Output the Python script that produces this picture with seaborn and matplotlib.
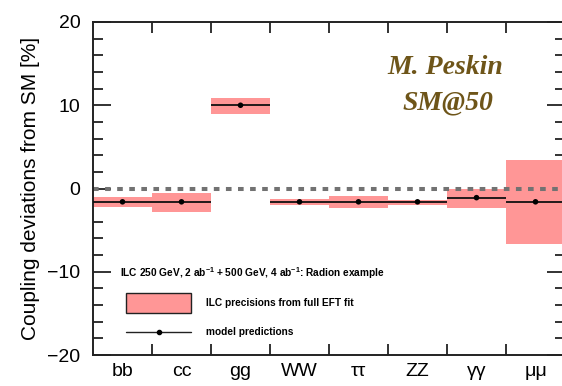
import matplotlib
matplotlib.use("Agg")
import matplotlib.pyplot as plt
from matplotlib.patches import Rectangle
from matplotlib.lines import Line2D
from matplotlib.ticker import MultipleLocator, FixedLocator, NullFormatter
import numpy as np
import pandas as pd
import seaborn as sns

# Higgs coupling channels and Radion-model deviations (%)
channels = ["bb", "cc", "gg", "WW", "ττ", "ZZ", "γγ", "μμ"]
prediction = [-1.6, -1.6, 10.0, -1.6, -1.6, -1.6, -1.1, -1.6]
band_low = [-2.2, -2.8, 9.0, -2.0, -2.4, -2.0, -2.3, -6.7]
band_high = [-1.0, -0.6, 10.9, -1.3, -0.9, -1.4, 0.0, 3.4]

sns.set_theme(style="ticks")
plt.rcParams["font.family"] = ["Liberation Sans", "DejaVu Sans"]
plt.rcParams["mathtext.fontset"] = "custom"
plt.rcParams["mathtext.rm"] = "Liberation Sans:bold"
plt.rcParams["mathtext.bf"] = "Liberation Sans:bold"

df = pd.DataFrame({
    "channel": channels,
    "pos": np.arange(len(channels)) + 0.5,
    "pred": prediction,
    "lo": band_low,
    "hi": band_high,
})

W, H = 562, 386
fig = plt.figure(figsize=(W / 100, H / 100), dpi=100)
ax = fig.add_axes([93 / W, (H - 355) / H, 472 / W, 333 / H])

band_color = "#ff9696"
# precision bands
ax.bar(df["pos"], df["hi"] - df["lo"], bottom=df["lo"], width=1.0,
       color=band_color, edgecolor="none", zorder=1)
# SM reference line
ax.axhline(0, color="#727272", lw=2.9, ls=(0, (1.4, 1.6)), zorder=2)
# model predictions: horizontal segment across each bin plus a centre dot
ax.hlines(df["pred"], df["pos"] - 0.5, df["pos"] + 0.5, color="#111111",
          lw=1.3, zorder=3)
sns.scatterplot(data=df, x="pos", y="pred", color="black", s=16,
                edgecolor="none", ax=ax, zorder=4, legend=False)

ax.set_xlim(0, len(channels))
ax.set_ylim(-20, 20)

# bin boundaries as inward ticks, channel names centred in bins
ax.xaxis.set_major_locator(FixedLocator(np.arange(1, len(channels))))
ax.xaxis.set_major_formatter(NullFormatter())
ax.xaxis.set_minor_locator(FixedLocator(df["pos"]))
ax.set_xticklabels(channels, minor=True)
ax.tick_params(axis="x", which="major", direction="in", length=8, width=1.3,
               top=True, bottom=True, color="#222222")
ax.tick_params(axis="x", which="minor", length=0, pad=6, labelsize=14,
               labelcolor="black")

ax.yaxis.set_major_locator(MultipleLocator(10))
ax.yaxis.set_minor_locator(MultipleLocator(2))
ax.tick_params(axis="y", which="major", direction="in", length=13, width=1.3,
               left=True, right=True, labelsize=14, pad=9, color="#222222",
               labelcolor="black")
ax.tick_params(axis="y", which="minor", direction="in", length=7, width=1.3,
               left=True, right=True, color="#222222")
for s in ax.spines.values():
    s.set_linewidth(1.4)
    s.set_color("#222222")

ax.set_xlabel("")
ax.set_ylabel("Coupling deviations from SM [%]", fontsize=15, labelpad=5,
              color="black")

# in-frame legend
def fx(px):
    return (px - 93) / 472

def fy(py):
    return (355 - py) / 333

leg_fs = 7.3
ax.text(fx(120), fy(273),
        r"ILC 250 GeV, 2 ab$^{-1}$ + 500 GeV, 4 ab$^{-1}$: Radion example",
        transform=ax.transAxes, fontsize=leg_fs, fontweight="bold",
        va="center", ha="left", color="black")
ax.add_patch(Rectangle((fx(126), fy(312.5)), fx(191) - fx(126),
                       fy(292.7) - fy(312.5), transform=ax.transAxes,
                       facecolor=band_color, edgecolor="#222222", lw=1.0,
                       zorder=5))
ax.text(fx(206), fy(302.5), "ILC precisions from full EFT fit",
        transform=ax.transAxes, fontsize=leg_fs, fontweight="bold",
        va="center", ha="left", color="black")
ax.add_line(Line2D([fx(126), fx(191)], [fy(332), fy(332)],
                   transform=ax.transAxes, color="#222222", lw=1.0,
                   marker=None, zorder=5))
ax.add_line(Line2D([fx(158.5)], [fy(332)], transform=ax.transAxes,
                   color="black", marker="o", ms=3, zorder=6))
ax.text(fx(206), fy(332), "model predictions",
        transform=ax.transAxes, fontsize=leg_fs, fontweight="bold",
        va="center", ha="left", color="black")

# speaker credit
credit = dict(fontsize=20, fontstyle="italic", fontweight="bold",
              family=["Liberation Serif", "DejaVu Serif"], color="#6e5519",
              ha="center", va="center")
fig.text(445 / W, 1 - 68 / H, "M. Peskin", **credit)
fig.text(448 / W, 1 - 103 / H, "SM@50", **credit)

fig.savefig("out.png", dpi=100)
